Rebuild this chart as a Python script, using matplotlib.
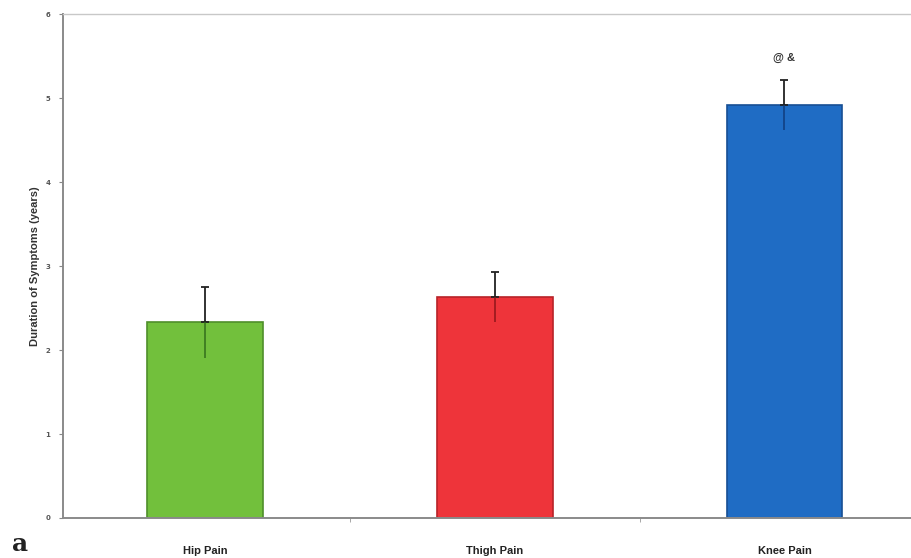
import matplotlib
matplotlib.use("Agg")
import matplotlib.pyplot as plt

categories = ["Hip Pain", "Thigh Pain", "Knee Pain"]
durations = [2.33, 2.63, 4.92]
errors = [0.42, 0.30, 0.30]
colors = ["#72c03c", "#ee343a", "#1f6cc4"]
edge_colors = ["#4f8f2a", "#b82228", "#174f94"]
lower_err_colors = ["#2f6a1a", "#8a1418", "#0f3a78"]
y_ticks = [0, 1, 2, 3, 4, 5, 6]
sig_label = "@ &"

fig = plt.figure(figsize=(9.12, 5.58), dpi=100)
ax = fig.add_axes([0.069, 0.0717, 0.931, 0.903])

x = list(range(len(categories)))
ax.bar(x, durations, width=0.40, color=colors, edgecolor=edge_colors, linewidth=1.2, zorder=2)

# upper half of the error bars in black with a cap
ax.errorbar(x, durations, yerr=[[0] * len(errors), errors], fmt="none", ecolor="#222222",
            elinewidth=1.3, capsize=3, capthick=1.3, zorder=3)
# lower half drawn inside the bars in a darker shade, no cap
for xi, d, e, c in zip(x, durations, errors, lower_err_colors):
    ax.errorbar([xi], [d], yerr=[[e], [0]], fmt="none", ecolor=c, elinewidth=1.3,
                capsize=0, zorder=3, alpha=0.8)

ax.text(2, durations[2] + errors[2] + 0.26, sig_label, ha="center", va="center",
        fontsize=8, fontweight="bold", color="#333333", family="Liberation Sans")

ax.set_xlim(-0.49, 2.44)
ax.set_ylim(0, 6)
ax.set_yticks(y_ticks)
ax.set_yticklabels([str(t) for t in y_ticks], fontsize=5, color="#555555", fontweight="bold")
ax.set_xticks(x)
ax.set_xticklabels(categories, fontsize=8, fontweight="bold", family="Liberation Sans", color="#222222")
ax.tick_params(axis="x", length=0, pad=20)
ax.set_xticks([0.5, 1.5], minor=True)
ax.tick_params(axis="x", which="minor", length=3, color="#999999")
ax.tick_params(axis="y", length=3, color="#888888", pad=6)

for side in ["left", "bottom"]:
    ax.spines[side].set_color("#8a8a8a")
    ax.spines[side].set_linewidth(1.4)
ax.spines["top"].set_color("#c8c8c8")
ax.spines["top"].set_linewidth(1.0)
ax.spines["right"].set_visible(False)

ax.set_ylabel("Duration of Symptoms (years)", fontsize=8, fontweight="bold",
              family="Liberation Sans", color="#333333", labelpad=4)

fig.text(0.013, 0.012, "a", fontsize=18, fontweight="bold", family="DejaVu Serif", color="#222222")

fig.savefig("out.png", dpi=100)
